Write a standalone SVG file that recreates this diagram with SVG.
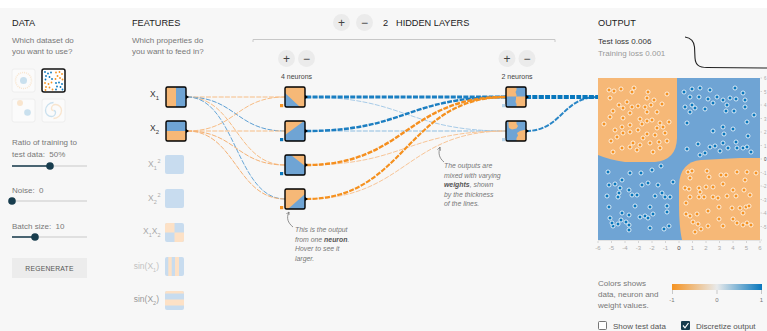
<svg xmlns="http://www.w3.org/2000/svg" width="767" height="331" viewBox="0 0 767 331">
<defs>
<style>
text{font-family:"Liberation Sans",Arial,Helvetica,sans-serif}
.hd{font-size:9.2px;fill:#222}
.ds{font-size:8px;fill:#777}
.sm{font-size:7px;fill:#444;text-anchor:middle}
.note{font-size:6.9px;fill:#777;font-style:italic}
.nb{font-weight:bold;fill:#555}
.btn{fill:#ebebeb}
.bt{font-size:12px;fill:#444;text-anchor:middle}
.node{fill:none;stroke:#000;stroke-width:1.4}
.knob{fill:#000}
.or{fill:#f6b877}
.bl{fill:#6fa4d4}
.fo{fill:#fde1c6}
.fb{fill:#c8dcef}
.lk{fill:none;stroke-dasharray:5 1.3}
.pt circle{r:2;stroke:#fff;stroke-width:0.8}
.po circle{fill:#f59322}
.pb circle{fill:#0877bd}
.ic circle{r:0.9}
.track{stroke:#c9c9c9;stroke-width:1.2}
.fill{stroke:#183d4e;stroke-width:1.5}
.thumb{fill:#183d4e}
.fl{font-size:8.5px;fill:#aaa}
.ax{font-size:6px;fill:#aaa;text-anchor:middle}
.tick{stroke:#ccc;stroke-width:0.8}
.faded{opacity:0.2}
</style>
<linearGradient id="scale" x1="0" x2="1">
<stop offset="0" stop-color="#f59322"/>
<stop offset="0.5" stop-color="#e8eaeb"/>
<stop offset="1" stop-color="#0877bd"/>
</linearGradient>
<marker id="ah" viewBox="0 0 6 6" refX="5" refY="3" markerWidth="5" markerHeight="5" orient="auto">
<path d="M0,0.5 L5,3 L0,5.5" fill="none" stroke="#777" stroke-width="1"/>
</marker>
</defs>

<!-- page background -->
<rect width="767" height="331" fill="#fff"/>
<rect x="0" y="8" width="767" height="323" fill="#f7f7f7"/>

<!-- DATA column -->
<g id="data-panel">
<text class="hd" x="12" y="26">DATA</text>
<text class="ds" x="12" y="43">Which dataset do</text>
<text class="ds" x="12" y="54">you want to use?</text>

<rect x="12" y="69" width="23" height="23" rx="2" fill="#fbfbfb" stroke="#eee"/>
<g id="dataset-circle" class="faded">
<circle cx="23.5" cy="80.5" r="8" fill="none" stroke="#f59322" stroke-width="1.5" stroke-dasharray="1 1"/>
<circle cx="23.5" cy="80.5" r="3.5" fill="#0877bd"/>
</g>
<g id="dataset-xor">
<rect x="42" y="69" width="23" height="23" rx="2" fill="#fff"/>
<g class="ic" fill="#0877bd">
<circle cx="45" cy="72" /><circle cx="48" cy="73.5"/><circle cx="51" cy="72.5"/><circle cx="46" cy="76"/><circle cx="49.5" cy="77"/><circle cx="52" cy="79"/><circle cx="45.5" cy="79.5"/>
<circle cx="56" cy="83"/><circle cx="59" cy="82.5"/><circle cx="62" cy="84"/><circle cx="57" cy="86.5"/><circle cx="60.5" cy="87"/><circle cx="62.5" cy="89.5"/><circle cx="56" cy="89.5"/>
</g>
<g class="ic" fill="#f59322">
<circle cx="56" cy="72.5"/><circle cx="59.5" cy="72"/><circle cx="62" cy="74"/><circle cx="57.5" cy="76"/><circle cx="60" cy="78"/><circle cx="62.5" cy="79.5"/><circle cx="55.5" cy="79"/>
<circle cx="45" cy="83"/><circle cx="48.5" cy="84"/><circle cx="51.5" cy="82.5"/><circle cx="46" cy="87"/><circle cx="49.5" cy="87.5"/><circle cx="52.5" cy="89.5"/><circle cx="45.5" cy="90"/>
</g>
<rect x="42" y="69" width="23" height="23" rx="2" fill="none" stroke="#111" stroke-width="1.5"/>
</g>
<rect x="12" y="99" width="23" height="23" rx="2" fill="#fbfbfb" stroke="#eee"/>
<g id="dataset-gauss" class="faded">
<circle cx="20" cy="103" r="3" fill="#f59322"/>
<circle cx="27.5" cy="112.5" r="3.3" fill="#0877bd"/>
</g>
<rect x="42" y="99" width="23" height="23" rx="2" fill="#fbfbfb" stroke="#eee"/>
<g id="dataset-spiral" class="faded" fill="none" stroke-width="1.3">
<path d="M53.5,110.5 a2,2 0 0 1 2,2 a4,4 0 0 1 -4,4 a6,6 0 0 1 -6,-6 a8,8 0 0 1 8,-8" stroke="#0877bd"/>
<path d="M53.5,110.5 a2,2 0 0 1 -2,-2 a4,4 0 0 1 4,-4 a6,6 0 0 1 6,6 a8,8 0 0 1 -8,8" stroke="#f59322"/>
</g>

<text class="ds" x="12" y="145">Ratio of training to</text>
<text class="ds" x="12" y="157">test data:&#160; 50%</text>
<line class="track" x1="12" y1="166" x2="87" y2="166"/>
<line class="fill" x1="12" y1="166" x2="50" y2="166"/>
<circle class="thumb" cx="50" cy="166" r="3.8"/>

<text class="ds" x="12" y="193">Noise:&#160; 0</text>
<line class="track" x1="12" y1="201" x2="87" y2="201"/>
<circle class="thumb" cx="12" cy="201" r="3.8"/>

<text class="ds" x="12" y="229">Batch size:&#160; 10</text>
<line class="track" x1="12" y1="237" x2="87" y2="237"/>
<line class="fill" x1="12" y1="237" x2="35" y2="237"/>
<circle class="thumb" cx="35" cy="237" r="3.8"/>

<rect x="12" y="258" width="75" height="20" fill="#ececec"/>
<text x="49.5" y="270.5" font-size="6.8" fill="#555" text-anchor="middle" letter-spacing="0.2">REGENERATE</text>
</g>

<!-- FEATURES column -->
<g id="features-head">
<text class="hd" x="132" y="26">FEATURES</text>
<text class="ds" x="132" y="43">Which properties do</text>
<text class="ds" x="132" y="54">you want to feed in?</text>
</g>

<!-- network header -->
<g id="layers-head">
<circle class="btn" cx="341.5" cy="22.5" r="8.5"/>
<text class="bt" x="341.5" y="26.8">+</text>
<circle class="btn" cx="364.5" cy="22.5" r="8.5"/>
<text class="bt" x="364.5" y="26.8">−</text>
<text class="hd" x="383" y="26" font-size="9.5">2</text>
<text class="hd" x="396" y="26">HIDDEN LAYERS</text>
<path d="M253,42 V39.5 H555 V42" fill="none" stroke="#c8c8c8" stroke-width="1"/>
</g>

<g id="layer1-head">
<circle class="btn" cx="286.5" cy="58.5" r="8.5"/>
<text class="bt" x="286.5" y="62.8">+</text>
<circle class="btn" cx="306.5" cy="58.5" r="8.5"/>
<text class="bt" x="306.5" y="62.8">−</text>
<text class="sm" x="296.5" y="79">4 neurons</text>
</g>
<g id="layer2-head">
<circle class="btn" cx="507" cy="58.5" r="8.5"/>
<text class="bt" x="507" y="62.8">+</text>
<circle class="btn" cx="527" cy="58.5" r="8.5"/>
<text class="bt" x="527" y="62.8">−</text>
<text class="sm" x="517" y="79">2 neurons</text>
</g>

<!-- connectors -->
<g id="links">
<!-- inputs to first hidden layer -->
<path class="lk" d="M187,97 C236,97 236,97 285,97" stroke="#f7bd85" stroke-width="1"/>
<path class="lk" d="M187,97 C236,97 236,131 285,131" stroke="#5ea0d4" stroke-width="1"/>
<path class="lk" d="M187,97 C236,97 236,165 285,165" stroke="#f7bd85" stroke-width="1"/>
<path class="lk" d="M187,97 C236,97 236,199 285,199" stroke="#6aa8d8" stroke-width="1"/>
<path class="lk" d="M187,131 C236,131 236,97 285,97" stroke="#f7bd85" stroke-width="1"/>
<path class="lk" d="M187,131 C236,131 236,131 285,131" stroke="#f7bd85" stroke-width="1"/>
<path class="lk" d="M187,131 C236,131 236,165 285,165" stroke="#f5b275" stroke-width="1"/>
<path class="lk" d="M187,131 C236,131 236,199 285,199" stroke="#f5b275" stroke-width="1"/>
<!-- first hidden layer to second -->
<path class="lk" d="M306,97 C406,97 406,131 506,131" stroke="#a7cbe8" stroke-width="1"/>
<path class="lk" d="M306,131 C406,131 406,131 506,131" stroke="#8dbde2" stroke-width="1.2"/>
<path class="lk" d="M306,165 C406,165 406,131 506,131" stroke="#f8c597" stroke-width="1"/>
<path class="lk" d="M306,199 C406,199 406,131 506,131" stroke="#f8c597" stroke-width="1"/>
<path class="lk" d="M306,97 C406,97 406,97 506,97" stroke="#1a7fc2" stroke-width="3"/>
<path class="lk" d="M306,131 C406,131 406,97 506,97" stroke="#1c7ec1" stroke-width="2.4"/>
<path class="lk" d="M306,165 C406,165 406,97 506,97" stroke="#f58f1f" stroke-width="2.4"/>
<path class="lk" d="M306,199 C406,199 406,97 506,97" stroke="#f5911f" stroke-width="2.2"/>
<!-- second hidden layer to output -->
<path class="lk" d="M526,131 C562,131 562,97 598,97" stroke="#2a86c6" stroke-width="2"/>
<path class="lk" d="M526,97 C562,97 562,97 598,97" stroke="#0877bd" stroke-width="4"/>
</g>

<!-- input feature nodes -->
<g id="feat-x1">
<text x="150" y="97" font-size="8.5" fill="#333">X<tspan font-size="6" dy="2.5">1</tspan></text>
<rect x="166" y="87" width="10" height="20" class="or"/>
<rect x="176" y="87" width="10" height="20" class="bl"/>
<rect x="166" y="87" width="20" height="20" rx="1.5" class="node"/>
<path class="knob" d="M186,95 L189,97 L186,99 Z"/>
</g>
<g id="feat-x2">
<text x="150" y="131" font-size="8.5" fill="#333">X<tspan font-size="6" dy="2.5">2</tspan></text>
<rect x="166" y="121" width="20" height="10" class="bl"/>
<rect x="166" y="131" width="20" height="10" class="or"/>
<rect x="166" y="121" width="20" height="20" rx="1.5" class="node"/>
<path class="knob" d="M186,129 L189,131 L186,133 Z"/>
</g>
<g id="feat-x1sq">
<text class="fl" x="148" y="167">X<tspan font-size="5.5" dy="2.5">1</tspan><tspan font-size="5.5" dy="-6.5" dx="0.8">2</tspan></text>
<rect x="165" y="155" width="19" height="19" rx="2" class="fb"/>
</g>
<g id="feat-x2sq">
<text class="fl" x="148" y="201">X<tspan font-size="5.5" dy="2.5">2</tspan><tspan font-size="5.5" dy="-6.5" dx="0.8">2</tspan></text>
<rect x="165" y="189" width="19" height="19" rx="2" class="fb"/>
</g>
<g id="feat-x1x2">
<text class="fl" x="143" y="234">X<tspan font-size="5.5" dy="2.5">1</tspan><tspan dy="-2.5">X</tspan><tspan font-size="5.5" dy="2.5">2</tspan></text>
<rect x="165" y="223" width="19" height="19" rx="2" class="fb"/>
<path class="fo" d="M167,223 H174.5 V232.5 H165 V225 A2,2 0 0 1 167,223 Z"/>
<path class="fo" d="M174.5,232.5 H184 V240 A2,2 0 0 1 182,242 H174.5 Z"/>
</g>
<g id="feat-sinx1">
<text class="fl" x="159" y="269" text-anchor="end" style="fill:#c2c2c2">sin(X<tspan font-size="5.5" dy="2.5">1</tspan><tspan dy="-2.5">)</tspan></text>
<rect x="165" y="257" width="19" height="19" rx="2" class="fb"/>
<rect x="168.3" y="257" width="3.4" height="19" class="fo"/>
<rect x="175" y="257" width="4" height="19" class="fo"/>
</g>
<g id="feat-sinx2">
<text class="fl" x="159" y="302" text-anchor="end" style="fill:#999">sin(X<tspan font-size="5.5" dy="2.5">2</tspan><tspan dy="-2.5">)</tspan></text>
<rect x="165" y="291" width="19" height="19" rx="2" class="fb"/>
<path class="fo" d="M167,291 H182 A2,2 0 0 1 184,293 V293.5 H165 V293 A2,2 0 0 1 167,291 Z"/>
<rect x="165" y="299.5" width="19" height="6" class="fo"/>
</g>

<!-- first hidden layer -->
<g id="h1-n1">
<rect x="285" y="87" width="20" height="20" class="or"/>
<path class="bl" d="M285,93 L300,107 H285 Z"/>
<rect x="285" y="87" width="20" height="20" rx="1.5" class="node"/>
<rect x="280" y="104" width="3.2" height="3.2" fill="#f59322"/>
<path class="knob" d="M305,95 L308,97 L305,99 Z"/>
</g>
<g id="h1-n2">
<rect x="285" y="121" width="20" height="20" class="bl"/>
<path class="or" d="M285,121 H304 L285,135 Z"/>
<rect x="285" y="121" width="20" height="20" rx="1.5" class="node"/>
<rect x="280" y="138" width="3.2" height="3.2" fill="#0877bd"/>
<path class="knob" d="M305,129 L308,131 L305,133 Z"/>
</g>
<g id="h1-n3">
<rect x="285" y="155" width="20" height="20" class="bl"/>
<path class="or" d="M291,155 H305 V166 Z"/>
<rect x="285" y="155" width="20" height="20" rx="1.5" class="node"/>
<rect x="280" y="172" width="3.2" height="3.2" fill="#0877bd"/>
<path class="knob" d="M305,163 L308,165 L305,167 Z"/>
</g>
<g id="h1-n4">
<rect x="285" y="189" width="20" height="20" class="or"/>
<path class="bl" d="M305,194 V209 H288 Z"/>
<rect x="285" y="189" width="20" height="20" rx="1.5" class="node"/>
<rect x="280" y="206" width="3.2" height="3.2" fill="#f59322"/>
<path class="knob" d="M305,197 L308,199 L305,201 Z"/>
</g>

<!-- second hidden layer -->
<g id="h2-n1">
<rect x="506" y="87" width="20" height="20" class="bl"/>
<path class="or" d="M506,87 H516.5 V90 L515.5,92 L516.5,95 V96.5 H506 Z"/>
<path class="or" d="M516,96.5 H526 V107 H516.5 V104 L515.5,102 L516,99 Z"/>
<rect x="506" y="87" width="20" height="20" rx="1.5" class="node"/>
<rect x="502" y="104" width="3.2" height="3.2" fill="#b7d4eb"/>
<path class="knob" d="M526,95 L529,97 L526,99 Z"/>
</g>
<g id="h2-n2">
<rect x="506" y="121" width="20" height="20" class="bl"/>
<path class="or" d="M508.5,121 H516.5 V124 L518,126 L516.5,128.5 L512,129.5 L509,128 L508.5,125 Z"/>
<path class="or" d="M526,129.5 V141 H516.5 V138 L518,135.5 L517,133 L520,131 Z"/>
<rect x="506" y="121" width="20" height="20" rx="1.5" class="node"/>
<rect x="502" y="138" width="3.2" height="3.2" fill="#b7d4eb"/>
<path class="knob" d="M526,129 L529,131 L526,133 Z"/>
</g>

<!-- annotations -->
<g id="note-neuron">
<path d="M293,227 C288,223 286,218 289,212" fill="none" stroke="#777" stroke-width="0.8" marker-end="url(#ah)"/>
<text class="note" x="295" y="232">This is the output</text>
<text class="note" x="295" y="241.5">from one <tspan class="nb">neuron</tspan>.</text>
<text class="note" x="295" y="251">Hover to see it</text>
<text class="note" x="295" y="260.5">larger.</text>
</g>
<g id="note-weights">
<path d="M444,162 C439,158 438,153 440,147" fill="none" stroke="#777" stroke-width="0.8" marker-end="url(#ah)"/>
<text class="note" x="444" y="168">The outputs are</text>
<text class="note" x="444" y="177.5">mixed with varying</text>
<text class="note" x="444" y="187"><tspan class="nb">weights</tspan>, shown</text>
<text class="note" x="444" y="196.5">by the thickness</text>
<text class="note" x="444" y="206">of the lines.</text>
</g>

<!-- OUTPUT column -->
<g id="output-head">
<text class="hd" x="598" y="26">OUTPUT</text>
<text x="598" y="44" font-size="8" fill="#333">Test loss 0.006</text>
<text x="598" y="56" font-size="8" fill="#999">Training loss 0.001</text>
<path d="M685,37 C691,38 694,41 694.5,47 L695,58 C695.5,65 699,67.5 707,67.5 L767,68" fill="none" stroke="#222" stroke-width="1.1"/>
</g>

<g id="output-heatmap">
<rect x="598" y="78" width="162" height="162" class="bl"/>
<path class="or" d="M598,78 H677 V138 Q676.5,160 655,162 H625 Q610,160 598,155 Z"/>
<path class="or" d="M760,158 V240 H682 Q679,226 679,205 V185 Q680,162 701,160 L740,158 Z"/>
<g class="pt po">
<circle cx="609" cy="90"/><circle cx="614" cy="91"/><circle cx="621" cy="89"/><circle cx="632" cy="92"/><circle cx="634" cy="88"/><circle cx="648" cy="92"/><circle cx="667" cy="94"/><circle cx="610" cy="98"/><circle cx="627" cy="102"/><circle cx="619" cy="105"/><circle cx="623" cy="108"/><circle cx="632" cy="107"/><circle cx="638" cy="106"/><circle cx="645" cy="107"/><circle cx="651" cy="105"/><circle cx="662" cy="104"/><circle cx="654" cy="100"/><circle cx="647" cy="98"/><circle cx="613" cy="111"/><circle cx="630" cy="113"/><circle cx="647" cy="112"/><circle cx="657" cy="112"/><circle cx="610" cy="117"/><circle cx="623" cy="118"/><circle cx="640" cy="119"/><circle cx="642" cy="124"/><circle cx="647" cy="121"/><circle cx="652" cy="120"/><circle cx="660" cy="123"/><circle cx="669" cy="122"/><circle cx="622" cy="127"/><circle cx="615" cy="130"/><circle cx="630" cy="125"/><circle cx="657" cy="128"/><circle cx="663" cy="127"/><circle cx="665" cy="133"/><circle cx="623" cy="133"/><circle cx="630" cy="132"/><circle cx="638" cy="130"/><circle cx="647" cy="134"/><circle cx="655" cy="135"/><circle cx="617" cy="137"/><circle cx="611" cy="141"/><circle cx="633" cy="143"/><circle cx="640" cy="145"/><circle cx="650" cy="143"/><circle cx="659" cy="142"/><circle cx="667" cy="141"/><circle cx="630" cy="147"/><circle cx="637" cy="150"/><circle cx="613" cy="152"/><circle cx="622" cy="148"/><circle cx="660" cy="148"/><circle cx="653" cy="152"/><circle cx="643" cy="138"/><circle cx="604" cy="124"/>
<circle cx="688" cy="172"/><circle cx="692" cy="171"/><circle cx="690" cy="178"/><circle cx="707" cy="171"/><circle cx="709" cy="177"/><circle cx="721" cy="175"/><circle cx="726" cy="175"/><circle cx="737" cy="172"/><circle cx="747" cy="172"/><circle cx="756" cy="173"/><circle cx="685" cy="188"/><circle cx="689" cy="189"/><circle cx="699" cy="188"/><circle cx="700" cy="192"/><circle cx="706" cy="187"/><circle cx="713" cy="187"/><circle cx="723" cy="184"/><circle cx="733" cy="190"/><circle cx="745" cy="180"/><circle cx="744" cy="190"/><circle cx="750" cy="195"/><circle cx="690" cy="197"/><circle cx="699" cy="197"/><circle cx="704" cy="197"/><circle cx="713" cy="197"/><circle cx="718" cy="198"/><circle cx="727" cy="196"/><circle cx="736" cy="196"/><circle cx="686" cy="203"/><circle cx="708" cy="211"/><circle cx="719" cy="207"/><circle cx="732" cy="208"/><circle cx="740" cy="208"/><circle cx="746" cy="207"/><circle cx="749" cy="206"/><circle cx="686" cy="214"/><circle cx="690" cy="216"/><circle cx="697" cy="214"/><circle cx="693" cy="222"/><circle cx="698" cy="224"/><circle cx="708" cy="226"/><circle cx="701" cy="229"/><circle cx="719" cy="219"/><circle cx="723" cy="226"/><circle cx="733" cy="219"/><circle cx="737" cy="223"/><circle cx="743" cy="225"/><circle cx="747" cy="223"/><circle cx="751" cy="225"/><circle cx="743" cy="213"/><circle cx="695" cy="232"/>
</g>
<g class="pt pb">
<circle cx="684" cy="92"/><circle cx="692" cy="89"/><circle cx="700" cy="88"/><circle cx="710" cy="90"/><circle cx="735" cy="88"/><circle cx="743" cy="93"/><circle cx="690" cy="97"/><circle cx="699" cy="97"/><circle cx="708" cy="99"/><circle cx="717" cy="97"/><circle cx="723" cy="100"/><circle cx="730" cy="98"/><circle cx="736" cy="99"/><circle cx="745" cy="100"/><circle cx="685" cy="107"/><circle cx="692" cy="105"/><circle cx="695" cy="108"/><circle cx="705" cy="109"/><circle cx="713" cy="103"/><circle cx="727" cy="105"/><circle cx="734" cy="111"/><circle cx="745" cy="107"/><circle cx="690" cy="112"/><circle cx="726" cy="111"/><circle cx="687" cy="123"/><circle cx="713" cy="131"/><circle cx="723" cy="127"/><circle cx="724" cy="134"/><circle cx="733" cy="129"/><circle cx="747" cy="122"/><circle cx="748" cy="136"/><circle cx="698" cy="144"/><circle cx="710" cy="147"/><circle cx="715" cy="146"/><circle cx="723" cy="143"/><circle cx="728" cy="148"/><circle cx="736" cy="142"/><circle cx="737" cy="148"/><circle cx="743" cy="148"/><circle cx="747" cy="147"/><circle cx="751" cy="152"/><circle cx="687" cy="149"/><circle cx="700" cy="155"/><circle cx="705" cy="153"/><circle cx="720" cy="151"/><circle cx="754" cy="115"/>
<circle cx="608" cy="172"/><circle cx="609" cy="185"/><circle cx="615" cy="184"/><circle cx="622" cy="180"/><circle cx="630" cy="173"/><circle cx="641" cy="173"/><circle cx="652" cy="170"/><circle cx="661" cy="166"/><circle cx="673" cy="182"/><circle cx="619" cy="193"/><circle cx="607" cy="196"/><circle cx="629" cy="190"/><circle cx="632" cy="195"/><circle cx="637" cy="195"/><circle cx="642" cy="185"/><circle cx="648" cy="183"/><circle cx="658" cy="185"/><circle cx="655" cy="196"/><circle cx="662" cy="193"/><circle cx="665" cy="197"/><circle cx="670" cy="197"/><circle cx="618" cy="197"/><circle cx="620" cy="188"/><circle cx="609" cy="207"/><circle cx="622" cy="213"/><circle cx="629" cy="215"/><circle cx="635" cy="206"/><circle cx="650" cy="207"/><circle cx="667" cy="206"/><circle cx="667" cy="212"/><circle cx="640" cy="217"/><circle cx="645" cy="216"/><circle cx="653" cy="214"/><circle cx="648" cy="218"/><circle cx="610" cy="218"/><circle cx="613" cy="226"/><circle cx="618" cy="224"/><circle cx="621" cy="220"/><circle cx="626" cy="222"/><circle cx="629" cy="225"/><circle cx="629" cy="230"/><circle cx="650" cy="228"/><circle cx="664" cy="229"/><circle cx="669" cy="226"/><circle cx="612" cy="223"/>
</g>
</g>

<g id="output-axes">
<line x1="598" y1="240.5" x2="760" y2="240.5" stroke="#ddd" stroke-width="0.8"/>
<path class="tick" d="M598,241 v2 M611.5,241 v2 M625,241 v2 M638.5,241 v2 M652,241 v2 M665.5,241 v2 M679,241 v2 M692.5,241 v2 M706,241 v2 M719.5,241 v2 M733,241 v2 M746.5,241 v2 M760,241 v2"/>
<text class="ax" y="249.5"><tspan x="598">-6</tspan><tspan x="611.5">-5</tspan><tspan x="625">-4</tspan><tspan x="638.5">-3</tspan><tspan x="652">-2</tspan><tspan x="665.5">-1</tspan><tspan x="692.5">1</tspan><tspan x="706">2</tspan><tspan x="719.5">3</tspan><tspan x="733">4</tspan><tspan x="746.5">5</tspan><tspan x="760">6</tspan></text>
<text class="ax" x="679" y="249.5" style="fill:#444">0</text>
<path class="tick" d="M760.5,78 h1.5 M760.5,91.5 h1.5 M760.5,105 h1.5 M760.5,118.5 h1.5 M760.5,132 h1.5 M760.5,145.5 h1.5 M760.5,159 h1.5 M760.5,172.5 h1.5 M760.5,186 h1.5 M760.5,199.5 h1.5 M760.5,213 h1.5 M760.5,226.5 h1.5 M760.5,240 h1.5"/>
<text font-size="4.5" fill="#aaa" text-anchor="end"><tspan x="766.5" y="80">6</tspan><tspan x="766.5" y="93.5">5</tspan><tspan x="766.5" y="107">4</tspan><tspan x="766.5" y="120.5">3</tspan><tspan x="766.5" y="134">2</tspan><tspan x="766.5" y="147.5">1</tspan><tspan x="766.5" y="174.5">-1</tspan><tspan x="766.5" y="188">-2</tspan><tspan x="766.5" y="201.5">-3</tspan><tspan x="766.5" y="215">-4</tspan><tspan x="766.5" y="228.5">-5</tspan></text>
<text x="766.5" y="161" font-size="4.5" fill="#444" text-anchor="end">0</text>
</g>

<g id="color-legend">
<text class="ds" x="598" y="286">Colors shows</text>
<text class="ds" x="598" y="297">data, neuron and</text>
<text class="ds" x="598" y="308">weight values.</text>
<rect x="672" y="284" width="90" height="6" fill="url(#scale)"/>
<path d="M672.5,290 v4 M717,290 v4 M761.5,290 v4" stroke="#bbb" stroke-width="0.8"/>
<text class="ax" y="302" style="fill:#777"><tspan x="672">-1</tspan><tspan x="717">0</tspan><tspan x="761.5">1</tspan></text>
</g>

<g id="output-options">
<rect x="598.5" y="321.5" width="8" height="8" rx="1" fill="#fff" stroke="#666" stroke-width="0.9"/>
<text x="613" y="329" font-size="8" fill="#555">Show test data</text>
<rect x="681" y="321" width="9" height="9" rx="1" fill="#183d4e"/>
<path d="M683,325.5 L685,327.8 L688.5,323" fill="none" stroke="#fff" stroke-width="1.2"/>
<text x="696" y="329" font-size="8" fill="#555">Discretize output</text>
</g>
</svg>
